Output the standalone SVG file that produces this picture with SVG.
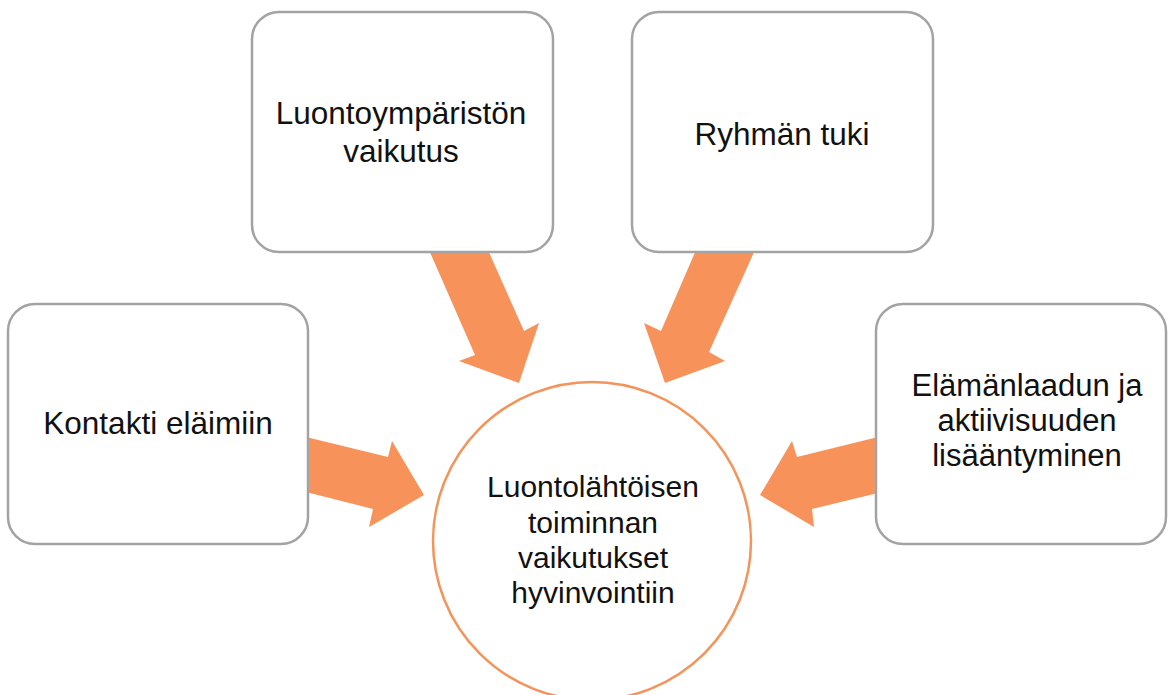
<svg xmlns="http://www.w3.org/2000/svg" width="1168" height="695" viewBox="0 0 1168 695">
<style>
.box{fill:#fff;stroke:#a3a3a3;stroke-width:2.5}
.arr{fill:#f7935a}
.ring{fill:#fff;stroke:#f4935a;stroke-width:2.5}
text{font-family:"Liberation Sans",Arial,sans-serif;font-size:31.5px;fill:#111;text-anchor:middle}
.c{font-size:30px}
.e{font-size:31px}
</style>
<rect width="1168" height="695" fill="#fff"/>
<g id="connectors">
<polygon class="arr" points="429,250 488,250 524,331 539,323 519,383 459,361 475,355"/>
<polygon class="arr" points="696,250 755,250 709,352 725,361 665,383 644,323 661,331"/>
<polygon class="arr" points="306,437 388,457 392,441 424,495 369,527 373,509 306,492"/>
<polygon class="arr" points="878,437 797,457 792,441 760,495 814,527 812,509 878,493"/>
</g>
<g id="center">
<circle class="ring" cx="592" cy="541" r="159"/>
<text class="c" x="593" y="497">Luontolähtöisen</text>
<text class="c" x="593" y="533">toiminnan</text>
<text class="c" x="593" y="568">vaikutukset</text>
<text class="c" x="593" y="603">hyvinvointiin</text>
</g>
<g id="n1">
<rect class="box" x="252" y="12" width="301" height="240" rx="27"/>
<text x="401" y="124">Luontoympäristön</text>
<text x="401" y="162">vaikutus</text>
</g>
<g id="n2">
<rect class="box" x="632" y="12" width="301" height="240" rx="27"/>
<text x="782" y="145">Ryhmän tuki</text>
</g>
<g id="n3">
<rect class="box" x="8" y="304" width="300" height="240" rx="27"/>
<text x="158" y="434">Kontakti eläimiin</text>
</g>
<g id="n4">
<rect class="box" x="876" y="304" width="290" height="240" rx="27"/>
<text class="e" x="1027" y="396">Elämänlaadun ja</text>
<text class="e" x="1027" y="431">aktiivisuuden</text>
<text class="e" x="1027" y="466">lisääntyminen</text>
</g>
</svg>
